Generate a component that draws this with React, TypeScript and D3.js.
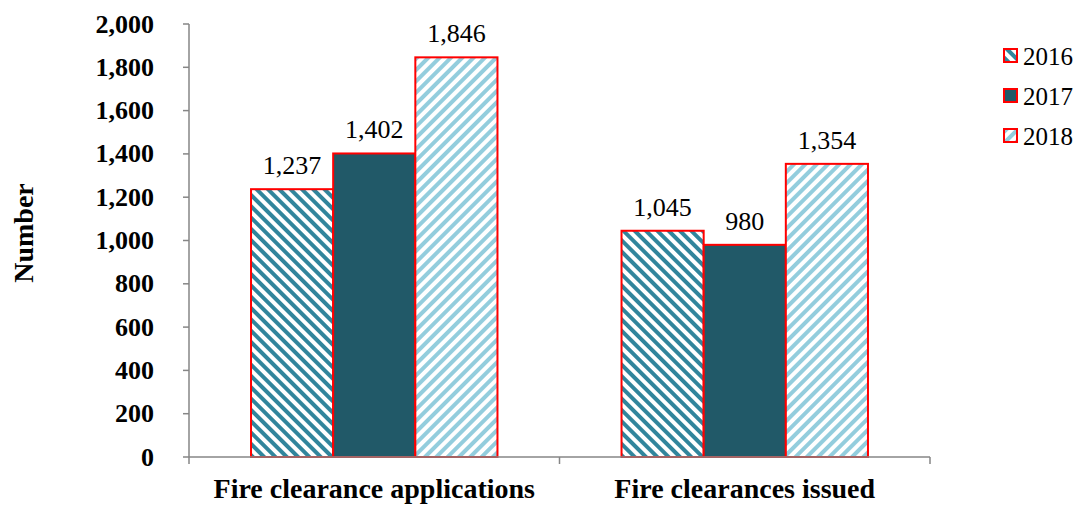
import React from "react";
import * as d3 from "d3";

const categories = ["Fire clearance applications", "Fire clearances issued"];
const years = ["2016", "2017", "2018"];
const values2016 = [1237, 1045];
const values2017 = [1402, 980];
const values2018 = [1846, 1354];
const yTicks = [0, 200, 400, 600, 800, 1000, 1200, 1400, 1600, 1800, 2000];

const seriesValues: Record<string, number[]> = {
  "2016": values2016,
  "2017": values2017,
  "2018": values2018,
};

const W = 1083;
const H = 505;
const left = 189;
const right = 930;
const top = 24;
const bottom = 457;
const FONT = "'Liberation Serif', 'Times New Roman', serif";
const AXIS = "#868686";

const fills: Record<string, string> = {
  "2016": "url(#p2016)",
  "2017": "#215968",
  "2018": "url(#p2018)",
};

export default function App() {
  const y = d3.scaleLinear().domain([0, 2000]).range([bottom, top]);
  const x0 = d3.scaleBand().domain(categories).range([left, right]).padding(0);
  const x1 = d3
    .scaleBand()
    .domain(years)
    .range([0, x0.bandwidth()])
    .paddingInner(0)
    .paddingOuter(0.755);
  const fmt = d3.format(",");

  return (
    <svg
      width={W}
      height={H}
      style={{ position: "absolute", left: 0, top: 0, background: "#fff" }}
    >
      <defs>
        <pattern
          id="p2016"
          width={8}
          height={8}
          patternUnits="userSpaceOnUse"
          patternTransform="rotate(-45)"
        >
          <rect width={8} height={8} fill="#ffffff" />
          <rect width={4} height={8} fill="#31859c" />
        </pattern>
        <pattern
          id="p2018"
          width={8}
          height={8}
          patternUnits="userSpaceOnUse"
          patternTransform="rotate(45)"
        >
          <rect width={8} height={8} fill="#ffffff" />
          <rect width={4} height={8} fill="#93cddd" />
        </pattern>
      </defs>

      {/* bars */}
      {categories.map((c, ci) => (
        <g key={c} transform={`translate(${x0(c)},0)`}>
          {years.map((yr) => {
            const v = seriesValues[yr][ci];
            const bx = x1(yr)!;
            const bw = x1.bandwidth();
            return (
              <g key={yr}>
                <rect
                  x={bx}
                  y={y(v)}
                  width={bw}
                  height={bottom - y(v)}
                  fill={fills[yr]}
                  stroke="#ff0000"
                  strokeWidth={2}
                />
                <text
                  x={bx + bw / 2}
                  y={y(v) - 15}
                  textAnchor="middle"
                  fontFamily={FONT}
                  fontSize={26}
                  fill="#000"
                >
                  {fmt(v)}
                </text>
              </g>
            );
          })}
        </g>
      ))}

      {/* y axis */}
      <line x1={left} x2={left} y1={top} y2={bottom} stroke={AXIS} strokeWidth={1.5} />
      {yTicks.map((t) => (
        <g key={t}>
          <line x1={left - 6} x2={left} y1={y(t)} y2={y(t)} stroke={AXIS} strokeWidth={1.5} />
          <text
            x={154}
            y={y(t) + 8.5}
            textAnchor="end"
            fontFamily={FONT}
            fontWeight="bold"
            fontSize={26}
            fill="#000"
          >
            {fmt(t)}
          </text>
        </g>
      ))}

      {/* x axis */}
      <line x1={left} x2={right} y1={bottom} y2={bottom} stroke={AXIS} strokeWidth={1.5} />
      {[left, ...categories.map((c) => x0(c)! + x0.bandwidth())].map((px, i) => (
        <line key={i} x1={px} x2={px} y1={bottom} y2={bottom + 7} stroke={AXIS} strokeWidth={1.5} />
      ))}
      {categories.map((c) => (
        <text
          key={c}
          x={x0(c)! + x0.bandwidth() / 2}
          y={498}
          textAnchor="middle"
          fontFamily={FONT}
          fontWeight="bold"
          fontSize={28}
          fill="#000"
        >
          {c}
        </text>
      ))}

      {/* y label */}
      <text
        transform={`translate(33,233) rotate(-90)`}
        textAnchor="middle"
        fontFamily={FONT}
        fontWeight="bold"
        fontSize={28}
        fill="#000"
      >
        Number
      </text>

      {/* legend */}
      {years.map((yr, i) => (
        <g key={yr} transform={`translate(1004,${49 + i * 40})`}>
          <rect x={0} y={0} width={13} height={13} fill={fills[yr]} stroke="#ff0000" strokeWidth={2} />
          <text x={19} y={16} fontFamily={FONT} fontSize={25} fill="#000">
            {yr}
          </text>
        </g>
      ))}
    </svg>
  );
}
